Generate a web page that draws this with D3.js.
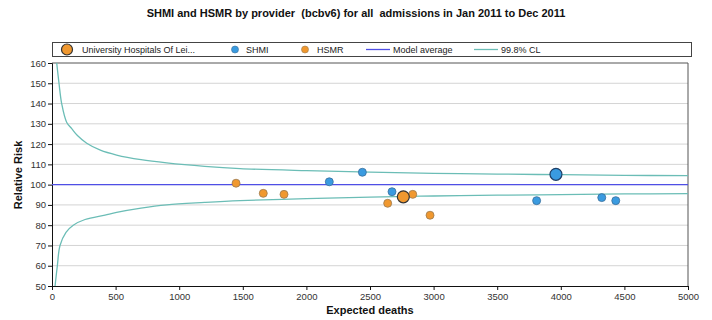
<!DOCTYPE html>
<html><head><meta charset="utf-8">
<script src="https://cdn.jsdelivr.net/npm/d3@7"></script>
<style>body{margin:0;background:#fff;font-family:"Liberation Sans",Arial,sans-serif}text{white-space:pre}</style>
</head><body><svg id="c" width="712" height="320"></svg>
<script>
const titleText = "SHMI and HSMR by provider  (bcbv6) for all  admissions in Jan 2011 to Dec 2011";
const xTicks = [0,500,1000,1500,2000,2500,3000,3500,4000,4500,5000];
const yTicks = [50,60,70,80,90,100,110,120,130,140,150,160];
const modelAverage = 100;
// 99.8% control limits
const upperE = [37,55,76,115,155,200,273,380,508,700,902,1200,1478,2000,2500,3000,3500,4000,4500,5000];
const upperV = [160,150,140,130.8,127.6,124.2,120.4,117.0,114.6,112.3,110.7,109.0,107.9,106.9,106.2,105.6,105.2,104.9,104.6,104.4];
const lowerE = [24,42,63,110,167,260,417,508,700,902,1200,1478,2000,2500,3000,3500,4000,4500,5000];
const lowerV = [50,60,70,76.5,80,82.8,85,86.3,88.4,90.0,91.2,92.1,93.1,93.8,94.4,94.8,95.1,95.4,95.6];
// SHMI points (other providers)
const shmiE = [2180,2440,2673,3810,4322,4432];
const shmiV = [101.4,106.1,96.5,92.1,93.6,92.1];
// HSMR points (other providers)
const hsmrE = [1447,1661,1824,2639,2836,2972];
const hsmrV = [100.7,95.7,95.2,90.8,95.2,84.9];
// Highlighted provider
const focusName = "University Hospitals Of Lei...";
const focusShmi = [3962,105.1];
const focusHsmr = [2762,94.0];

const svg = d3.select("#c");
const L=52,R=688,T=63,B=286;
const x = d3.scaleLinear().domain([0,5000]).range([L,R]);
const y = d3.scaleLinear().domain([50,160]).range([B,T]);
const BLUE="#3a9be0", ORANGE="#f0982f", CL="#6bbdb6", AVG="#4f4fe6";

svg.append("text").attr("x",356).attr("y",17).attr("text-anchor","middle")
  .attr("font-size",11).attr("font-weight","bold").attr("fill","#111").text(titleText);

// gridlines
svg.append("g").selectAll("line").data(yTicks.filter(d=>d>50&&d<160)).join("line")
  .attr("x1",L).attr("x2",R).attr("y1",d=>y(d)).attr("y2",d=>y(d))
  .attr("stroke","#d4d4d4").attr("stroke-width",1);
// plot frame top/right
svg.append("line").attr("x1",L).attr("x2",R).attr("y1",T).attr("y2",T).attr("stroke","#555");
svg.append("line").attr("x1",R).attr("x2",R).attr("y1",T).attr("y2",B).attr("stroke","#555");

// axes
const ya = svg.append("g").attr("transform",`translate(${L},0)`)
  .call(d3.axisLeft(y).tickValues(yTicks).tickSize(4).tickPadding(2).tickFormat(d3.format("d")));
const xa = svg.append("g").attr("transform",`translate(0,${B})`)
  .call(d3.axisBottom(x).tickValues(xTicks).tickSize(4).tickPadding(3).tickFormat(d3.format("d")));
[ya,xa].forEach(a=>{a.selectAll("text").attr("font-size",9.5).attr("fill","#333").attr("font-family","Liberation Sans, Arial");
  a.select(".domain").attr("stroke","#111"); a.selectAll(".tick line").attr("stroke","#111");});

svg.append("text").attr("transform","translate(22,175) rotate(-90)").attr("text-anchor","middle")
  .attr("font-size",11).attr("font-weight","bold").attr("fill","#111").text("Relative Risk");
svg.append("text").attr("x",370).attr("y",314).attr("text-anchor","middle")
  .attr("font-size",11).attr("font-weight","bold").attr("fill","#111").text("Expected deaths");

// model average
svg.append("line").attr("x1",L).attr("x2",R).attr("y1",y(modelAverage)).attr("y2",y(modelAverage))
  .attr("stroke",AVG).attr("stroke-width",1.2);

// CL curves
const line = d3.line().x(d=>x(d[0])).y(d=>y(d[1])).curve(d3.curveCatmullRom.alpha(0.5));
svg.append("path").attr("d",line(upperE.map((e,i)=>[e,upperV[i]]))).attr("fill","none").attr("stroke",CL).attr("stroke-width",1.3);
svg.append("path").attr("d",line(lowerE.map((e,i)=>[e,lowerV[i]]))).attr("fill","none").attr("stroke",CL).attr("stroke-width",1.3);

// points
function pts(E,V,col,stroke){
  svg.append("g").selectAll("circle").data(E.map((e,i)=>[e,V[i]])).join("circle")
   .attr("cx",d=>x(d[0])).attr("cy",d=>y(d[1])).attr("r",4)
   .attr("fill",col).attr("stroke",stroke).attr("stroke-width",0.8);
}
pts(hsmrE,hsmrV,ORANGE,"#9a7a50");
pts(shmiE,shmiV,BLUE,"#3a6f9a");
svg.append("circle").attr("cx",x(focusHsmr[0])).attr("cy",y(focusHsmr[1])).attr("r",6)
  .attr("fill",ORANGE).attr("stroke","#333").attr("stroke-width",1.2);
svg.append("circle").attr("cx",x(focusShmi[0])).attr("cy",y(focusShmi[1])).attr("r",6)
  .attr("fill",BLUE).attr("stroke","#1f3f66").attr("stroke-width",1.2);

// legend
const lg = svg.append("g");
lg.append("rect").attr("x",52.5).attr("y",42.5).attr("width",639).attr("height",14)
  .attr("fill","#fff").attr("stroke","#444");
const ly=49.5;
lg.append("circle").attr("cx",67).attr("cy",ly).attr("r",5.5).attr("fill",ORANGE).attr("stroke","#333").attr("stroke-width",1.2);
lg.append("circle").attr("cx",235).attr("cy",ly).attr("r",3.5).attr("fill",BLUE).attr("stroke","#3a6f9a").attr("stroke-width",0.6);
lg.append("circle").attr("cx",305).attr("cy",ly).attr("r",3.5).attr("fill",ORANGE).attr("stroke","#9a7a50").attr("stroke-width",0.6);
lg.append("line").attr("x1",366).attr("x2",390).attr("y1",ly).attr("y2",ly).attr("stroke",AVG).attr("stroke-width",1.3);
lg.append("line").attr("x1",474).attr("x2",498).attr("y1",ly).attr("y2",ly).attr("stroke",CL).attr("stroke-width",1.3);
const lt=[[82,focusName],[246,"SHMI"],[317,"HSMR"],[393,"Model average"],[501,"99.8% CL"]];
lg.selectAll("text.l").data(lt).join("text").attr("x",d=>d[0]).attr("y",ly+3.3)
  .attr("font-size",9).attr("fill","#222").text(d=>d[1]);
</script></body></html>
